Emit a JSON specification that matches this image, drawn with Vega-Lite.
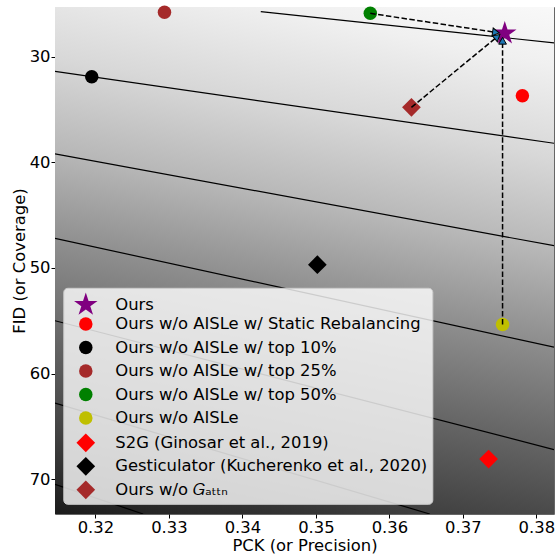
{
  "$schema": "https://vega.github.io/schema/vega-lite/v6.json",
  "width": 499,
  "height": 507,
  "autosize": {"type": "none"},
  "padding": {"left": 55, "top": 7, "right": 2, "bottom": 40},
  "config": {
    "font": "DejaVu Sans",
    "view": {"stroke": "#666666", "strokeWidth": 1},
    "axis": {
      "labelFont": "DejaVu Sans", "labelFontSize": 16.4, "labelColor": "#000000",
      "titleFont": "DejaVu Sans", "titleFontSize": 16.4, "titleFontWeight": "normal", "titleColor": "#000000",
      "tickColor": "#000000", "tickSize": 4, "domain": false, "grid": false, "labelPadding": 1
    },
    "legend": {
      "title": null, "orient": "none", "legendX": 8.3, "legendY": 280.8,
      "padding": 4.5, "rowPadding": 0.5, "gridAlign": "all", "labelOffset": 17, "symbolOffset": 5.5,
      "labelFont": "DejaVu Sans", "labelFontSize": 16.4, "labelColor": "#000000", "labelLimit": 500,
      "fillColor": "rgba(255,255,255,0.8)", "strokeColor": "#cccccc", "cornerRadius": 4, "symbolStrokeWidth": 0
    }
  },
  "datasets": {
    "points": [
      {"method": "Ours", "pck": 0.3757, "fid": 27.8},
      {"method": "Ours w/o AISLe w/ Static Rebalancing", "pck": 0.3781, "fid": 33.7},
      {"method": "Ours w/o AISLe w/ top 10%", "pck": 0.3195, "fid": 31.9},
      {"method": "Ours w/o AISLe w/ top 25%", "pck": 0.3294, "fid": 25.8},
      {"method": "Ours w/o AISLe w/ top 50%", "pck": 0.3574, "fid": 25.9},
      {"method": "Ours w/o AISLe", "pck": 0.3754, "fid": 55.35},
      {"method": "S2G (Ginosar et al., 2019)", "pck": 0.3735, "fid": 68.1},
      {"method": "Gesticulator (Kucherenko et al., 2020)", "pck": 0.3502, "fid": 49.7},
      {"method": "Ours w/o 𝐺ₐₜₜₙ", "pck": 0.3630, "fid": 34.8}
    ],
    "contours": [
      {"level": 1, "pck": 0.3425, "fid": 25.73}, {"level": 1, "pck": 0.3824, "fid": 28.7},
      {"level": 2, "pck": 0.3145, "fid": 31.4}, {"level": 2, "pck": 0.3824, "fid": 38.2},
      {"level": 3, "pck": 0.3145, "fid": 39.2}, {"level": 3, "pck": 0.3824, "fid": 47.9},
      {"level": 4, "pck": 0.3145, "fid": 47.2}, {"level": 4, "pck": 0.3824, "fid": 57.5},
      {"level": 5, "pck": 0.3145, "fid": 55.0}, {"level": 5, "pck": 0.3824, "fid": 67.2},
      {"level": 6, "pck": 0.3145, "fid": 62.8}, {"level": 6, "pck": 0.3655, "fid": 73.3},
      {"level": 7, "pck": 0.3145, "fid": 70.5}, {"level": 7, "pck": 0.3265, "fid": 73.3}
    ],
    "arrows": [
      {"from": "top50", "pck": 0.3574, "fid": 25.9, "pck2": 0.3745, "fid2": 27.7},
      {"from": "gattn", "pck": 0.3630, "fid": 34.8, "pck2": 0.3747, "fid2": 28.1},
      {"from": "aisle", "pck": 0.3754, "fid": 55.35, "pck2": 0.3754, "fid2": 28.5}
    ]
  },
  "encoding": {
    "x": {"field": "pck", "type": "quantitative", "title": "PCK (or Precision)",
      "scale": {"domain": [0.3145, 0.3824], "nice": false, "zero": false},
      "axis": {"values": [0.32, 0.33, 0.34, 0.35, 0.36, 0.37, 0.38], "format": ".2f", "titlePadding": 2}},
    "y": {"field": "fid", "type": "quantitative", "title": "FID (or Coverage)",
      "scale": {"domain": [25.3, 73.3], "nice": false, "zero": false, "reverse": true},
      "axis": {"values": [30, 40, 50, 60, 70], "titlePadding": 2}}
  },
  "layer": [
    {
      "data": {"values": [{}]},
      "mark": {"type": "rect", "color": {
        "gradient": "linear", "x1": 0.62, "y1": -0.08, "x2": 0.38, "y2": 1.12,
        "stops": [
          {"offset": 0, "color": "#f9f9f9"},
          {"offset": 0.096, "color": "#f0f0f0"},
          {"offset": 0.243, "color": "#d8d8d8"},
          {"offset": 0.388, "color": "#b8b8b8"},
          {"offset": 0.536, "color": "#8e8e8e"},
          {"offset": 0.682, "color": "#686868"},
          {"offset": 0.829, "color": "#444444"},
          {"offset": 0.97, "color": "#1a1a1a"},
          {"offset": 1, "color": "#0c0c0c"}
        ]}},
      "encoding": {"x": null, "y": null}
    },
    {
      "data": {"name": "contours"},
      "mark": {"type": "line", "color": "#000000", "strokeWidth": 1.2, "clip": true},
      "encoding": {"detail": {"field": "level", "type": "nominal"}}
    },
    {
      "data": {"name": "points"},
      "mark": {"type": "point", "filled": true, "opacity": 1, "strokeWidth": 0},
      "encoding": {
        "color": {"field": "method", "type": "nominal",
          "scale": {"domain": ["Ours", "Ours w/o AISLe w/ Static Rebalancing", "Ours w/o AISLe w/ top 10%", "Ours w/o AISLe w/ top 25%", "Ours w/o AISLe w/ top 50%", "Ours w/o AISLe", "S2G (Ginosar et al., 2019)", "Gesticulator (Kucherenko et al., 2020)", "Ours w/o 𝐺ₐₜₜₙ"],
            "range": ["#800080", "#ff0000", "#000000", "#a52a2a", "#008000", "#bfbf00", "#ff0000", "#000000", "#a52a2a"]}},
        "shape": {"field": "method", "type": "nominal",
          "scale": {"domain": ["Ours", "Ours w/o AISLe w/ Static Rebalancing", "Ours w/o AISLe w/ top 10%", "Ours w/o AISLe w/ top 25%", "Ours w/o AISLe w/ top 50%", "Ours w/o AISLe", "S2G (Ginosar et al., 2019)", "Gesticulator (Kucherenko et al., 2020)", "Ours w/o 𝐺ₐₜₜₙ"],
            "range": ["M0,-1L0.2245,-0.309L0.951,-0.309L0.3633,0.118L0.5878,0.809L0,0.382L-0.5878,0.809L-0.3633,0.118L-0.951,-0.309L-0.2245,-0.309Z", "circle", "circle", "circle", "circle", "circle", "diamond", "diamond", "diamond"]}},
        "size": {"field": "method", "type": "nominal",
          "scale": {"type": "ordinal", "domain": ["Ours", "Ours w/o AISLe w/ Static Rebalancing", "Ours w/o AISLe w/ top 10%", "Ours w/o AISLe w/ top 25%", "Ours w/o AISLe w/ top 50%", "Ours w/o AISLe", "S2G (Ginosar et al., 2019)", "Gesticulator (Kucherenko et al., 2020)", "Ours w/o 𝐺ₐₜₜₙ"],
            "range": [610, 182, 182, 182, 182, 182, 350, 350, 350]}}
      }
    },
    {
      "data": {"name": "arrows"},
      "mark": {"type": "rule", "color": "#000000", "strokeWidth": 1.5, "strokeDash": [5.5, 2.4]},
      "encoding": {"x2": {"field": "pck2"}, "y2": {"field": "fid2"}}
    },
    {
      "data": {"name": "arrows"},
      "transform": [{"filter": "datum.from == 'top50'"}],
      "mark": {"type": "point", "shape": "triangle-right", "angle": 8.7, "size": 60, "filled": true, "fill": "#1f77b4", "stroke": "#000000", "strokeWidth": 1, "opacity": 1},
      "encoding": {"x": {"field": "pck2", "type": "quantitative"}, "y": {"field": "fid2", "type": "quantitative"}}
    },
    {
      "data": {"name": "arrows"},
      "transform": [{"filter": "datum.from == 'gattn'"}],
      "mark": {"type": "point", "shape": "triangle-right", "angle": -40, "size": 60, "filled": true, "fill": "#1f77b4", "stroke": "#000000", "strokeWidth": 1, "opacity": 1},
      "encoding": {"x": {"field": "pck2", "type": "quantitative"}, "y": {"field": "fid2", "type": "quantitative"}}
    },
    {
      "data": {"name": "arrows"},
      "transform": [{"filter": "datum.from == 'aisle'"}],
      "mark": {"type": "point", "shape": "triangle-up", "size": 60, "filled": true, "fill": "#1f77b4", "stroke": "#000000", "strokeWidth": 1, "opacity": 1},
      "encoding": {"x": {"field": "pck2", "type": "quantitative"}, "y": {"field": "fid2", "type": "quantitative"}}
    }
  ]
}
